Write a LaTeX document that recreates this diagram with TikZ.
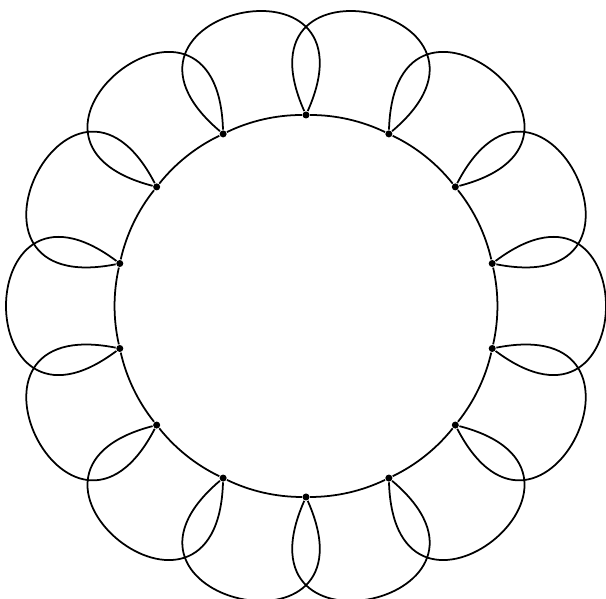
\documentclass[tikz,border=0pt]{standalone}
\begin{document}
\begin{tikzpicture}[
    sommet/.style={circle, fill=black, inner sep=0pt, minimum size=2pt},
    arete/.style={line width=0.5pt}]
    \useasboundingbox (-3.06,-2.93) rectangle (3.00,3.06);

    % Sommets sur le cercle
    \foreach \i in {0,...,13} {
        \node[sommet] (v\i) at ({90-\i*360/14}:1.91) {};
    }

    % Cercle intérieur
    \foreach \i in {0,...,13} {
        \pgfmathtruncatemacro\j{mod(\i+1,14)}
        \draw[arete] (v\i) to[bend left=12.857, looseness=0.86] (v\j);
    }

    % Arêtes extérieures (boucles croisées)
    \foreach \i in {0,...,13} {
        \pgfmathtruncatemacro\j{mod(\i+1,14)}
        \pgfmathsetmacro\a{90-\i*360/14}
        \draw[arete] (v\i) to[out=\a+24, in=\a-360/14-24, distance=1.84cm] (v\j);
    }

\end{tikzpicture}
\end{document}
